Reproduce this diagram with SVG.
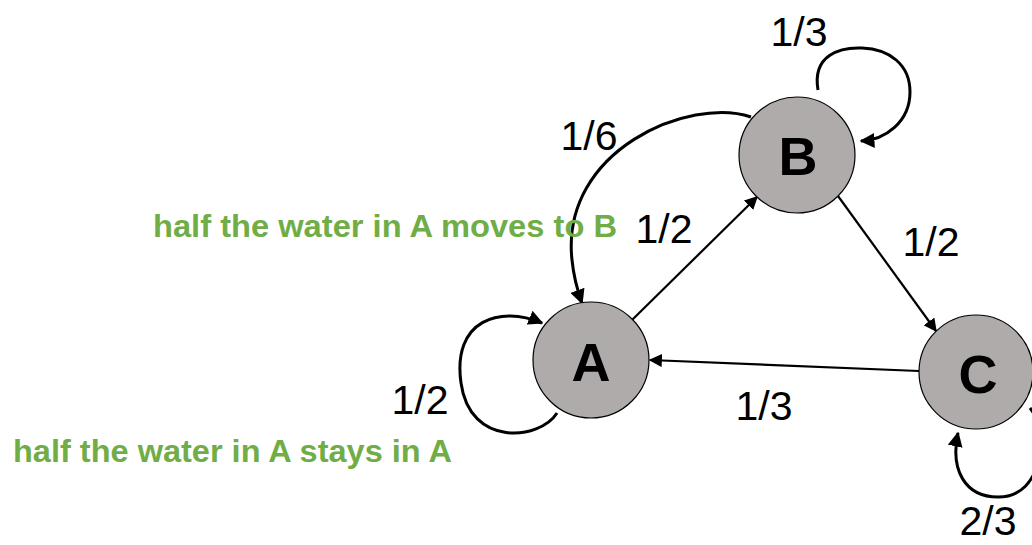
<svg xmlns="http://www.w3.org/2000/svg" width="1032" height="545" viewBox="0 0 1032 545">
<defs>
<marker id="ah" viewBox="0 0 10 10" refX="9" refY="5" markerWidth="5" markerHeight="5" markerUnits="strokeWidth" orient="auto">
<path d="M0,0 L10,5 L0,10 z" fill="#000"/>
</marker>
<marker id="ahs" viewBox="0 0 10 10" refX="9" refY="5" markerWidth="6" markerHeight="6" markerUnits="strokeWidth" orient="auto">
<path d="M0,0 L10,5 L0,10 z" fill="#000"/>
</marker>
</defs>
<style>
.node{fill:#AFABAB;stroke:#000;stroke-width:1.2}
.nl{font-family:"Liberation Sans",Arial,sans-serif;font-weight:bold;font-size:54px;text-anchor:middle;fill:#000}
.el{font-family:"Liberation Sans",Arial,sans-serif;font-size:41px;text-anchor:middle;fill:#000}
.ann{font-family:"Liberation Sans",Arial,sans-serif;font-weight:bold;font-size:32px;fill:#70AD47}
.e{fill:none;stroke:#000;stroke-width:2.2;marker-end:url(#ahs)}
.loop{fill:none;stroke:#000;stroke-width:3;marker-end:url(#ah)}
</style>
<rect width="1032" height="545" fill="#fff"/>
<g id="connectors">
<path class="e" d="M632,320 L757,197"/>
<path class="e" d="M838,196 L936,331"/>
<path class="e" d="M919,371 L650,360"/>
<path class="loop" d="M751,117 C690,96 560,150 572,260 C574,280 578,292 582,303"/>
<path class="loop" d="M818,90 C812,55 840,47 862,48 C890,49 910,65 910,92 C910,122 885,140 861,141"/>
<path class="loop" d="M557,413 C540,440 470,448 461,383 C452,320 500,305 542,323"/>
<path class="loop" d="M1030,408 C1048,430 1045,497 998,497 C965,497 950,470 958,433"/>
</g>
<g id="node-A"><circle class="node" cx="591" cy="360" r="58"/><text class="nl" x="591" y="381">A</text></g>
<g id="node-B"><circle class="node" cx="797" cy="155" r="58"/><text class="nl" x="798" y="175">B</text></g>
<g id="node-C"><circle class="node" cx="976" cy="372" r="57"/><text class="nl" x="978" y="393">C</text></g>
<g id="labels">
<text class="el" x="799" y="46">1/3</text>
<text class="el" x="589" y="150">1/6</text>
<text class="el" x="664" y="243">1/2</text>
<text class="el" x="931" y="256">1/2</text>
<text class="el" x="764" y="420">1/3</text>
<text class="el" x="420" y="414">1/2</text>
<text class="el" x="988" y="535">2/3</text>
<text class="ann" x="153" y="237" textLength="464" lengthAdjust="spacingAndGlyphs">half the water in A moves to B</text>
<text class="ann" x="13" y="462" textLength="439" lengthAdjust="spacingAndGlyphs">half the water in A stays in A</text>
</g>
</svg>
